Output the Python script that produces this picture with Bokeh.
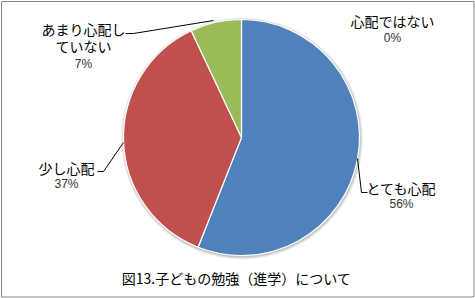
import math
from bokeh.plotting import figure
from bokeh.models import Range1d, ColumnDataSource
from bokeh.core.properties import value
from bokeh.embed import file_html
from bokeh.resources import INLINE

# ---- data ----
categories = ["とても心配", "少し心配", "あまり心配し\nていない", "心配ではない"]
percents = [56, 37, 7, 0]
colors = ["#4F81BD", "#C0504D", "#9BBB59", "#8064A2"]
title = "図13.子どもの勉強（進学）について"

W, H = 475, 298
def Y(y):
    return H - y

cx, cy, r = 241, Y(137), 118

p = figure(width=W, height=H, output_backend="svg", toolbar_location=None,
           x_range=Range1d(0, W), y_range=Range1d(0, H), min_border=0,
           outline_line_color=None)
p.axis.visible = False
p.grid.visible = False
p.background_fill_color = "white"
p.border_fill_color = "white"

# chart border
p.quad(left=[1], right=[473.5], bottom=[Y(296.5)], top=[Y(1)], fill_color=None,
       line_color="#878787", line_width=1)

# shadow
for i, a in enumerate([0.06, 0.08, 0.10]):
    p.circle(x=[cx + 0.5], y=[cy - 1], radius=r + 3 - i, fill_color="#000000",
             fill_alpha=a, line_color=None)

total = sum(percents)
starts, ends = [], []
acc = 0.0
for v in percents:
    starts.append(math.pi / 2 - 2 * math.pi * acc / total)
    acc += v
    ends.append(math.pi / 2 - 2 * math.pi * acc / total)

src = ColumnDataSource(dict(start=starts[:3], end=ends[:3], color=colors[:3]))
p.wedge(x=cx, y=cy, radius=r, start_angle="start", end_angle="end",
        direction="clock", fill_color="color", line_color="white",
        line_width=1.2, source=src)

# leader lines (layout)
leaders = [
    ([357, 361, 367], [158, 192, 192]),
    ([97, 103, 123], [171, 171, 142]),
    ([125, 133, 213], [33, 33, 20]),
]
for xs, ys in leaders:
    p.line(x=xs, y=[Y(v) for v in ys], line_color="#000000", line_width=1)

jp = value("Noto Sans CJK JP")
num = value("Liberation Sans")
# label positions (layout): name lines y, percent y
label_pos = [
    (401, [187], 203),
    (66, [167], 183),
    (83, [28, 45], 63),
    (392, [20], 37),
]
for cat, pct, (lx, lys, py) in zip(categories, percents, label_pos):
    lines = cat.split("\n")
    p.text(x=[lx] * len(lines), y=[Y(v) for v in lys], text=lines,
           text_font=jp, text_font_size="14px", text_align="center",
           text_baseline="middle", text_color="#000000")
    p.text(x=[lx], y=[Y(py)], text=[f"{pct}%"], text_font=num,
           text_font_size="12px", text_align="center",
           text_baseline="middle", text_color="#333333")

p.text(x=[236], y=[Y(277)], text=[title], text_font=jp, text_font_size="14px",
       text_align="center", text_baseline="middle", text_color="#000000")

open("out.html", "w").write(file_html(p, INLINE))
